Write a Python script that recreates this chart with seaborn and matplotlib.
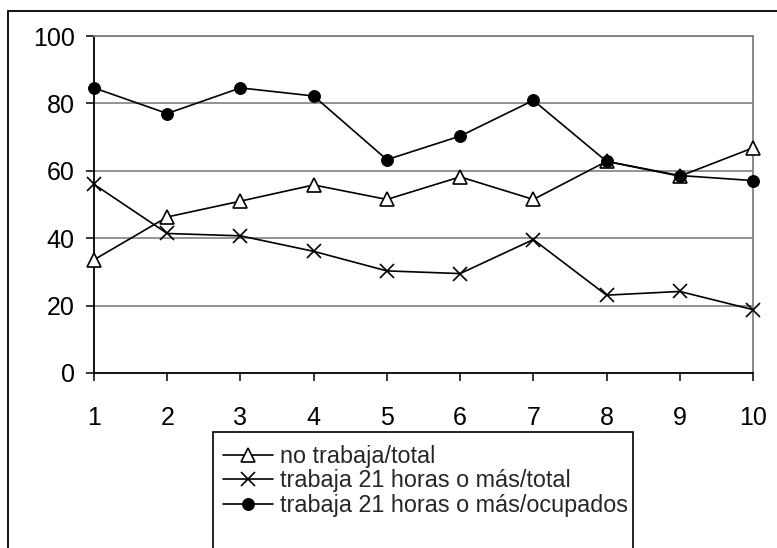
import matplotlib
matplotlib.use("Agg")
import matplotlib.pyplot as plt
import seaborn as sns
import pandas as pd
from matplotlib.patches import Rectangle

x_vals = [1, 2, 3, 4, 5, 6, 7, 8, 9, 10]
no_trabaja_total = [33.6, 46.3, 51.0, 55.8, 51.5, 58.2, 51.5, 62.8, 58.4, 66.8]
trabaja21_total = [56.0, 41.4, 40.7, 36.1, 30.3, 29.5, 39.6, 23.1, 24.2, 18.8]
trabaja21_ocupados = [84.6, 77.0, 84.6, 82.2, 63.3, 70.3, 80.9, 62.8, 58.6, 57.1]
labels = ["no trabaja/total", "trabaja 21 horas o más/total",
          "trabaja 21 horas o más/ocupados"]
y_ticks = [0, 20, 40, 60, 80, 100]

sns.set_theme(style="white")
plt.rcParams['font.family'] = ['Liberation Sans', 'DejaVu Sans']

W, H = 777, 548
fig = plt.figure(figsize=(W / 100, H / 100), dpi=100)
ax = fig.add_axes([94 / W, 1 - 373 / H, (753 - 94) / W, (373 - 36) / H])

# outer border (extends beyond right and bottom)
fig.patches.append(Rectangle((8 / W, -0.1), 1.2, 1 - 11 / H + 0.1,
                             transform=fig.transFigure, fill=False,
                             edgecolor='black', linewidth=1.3, zorder=0))

for yv in y_ticks[1:]:
    ax.axhline(yv, color='#808080', linewidth=1.2, zorder=1)

common = dict(color='black', linewidth=1.2, clip_on=False, zorder=3)
sns.lineplot(x=x_vals, y=no_trabaja_total, ax=ax, marker='^', markersize=10,
             markerfacecolor='white', markeredgecolor='black',
             markeredgewidth=1.2, label=labels[0], **common)
sns.lineplot(x=x_vals, y=trabaja21_total, ax=ax, marker='x', markersize=10,
             markeredgecolor='black', markeredgewidth=1.2,
             label=labels[1], **common)
sns.lineplot(x=x_vals, y=trabaja21_ocupados, ax=ax, marker='o', markersize=8.5,
             markerfacecolor='black', markeredgecolor='black',
             label=labels[2], **common)

ax.set_xlim(1, 10)
ax.set_ylim(0, 100)
ax.set_xticks(x_vals)
ax.set_yticks(y_ticks)
ax.set_xticklabels([str(v) for v in x_vals])
ax.set_yticklabels([str(v) for v in y_ticks])
ax.tick_params(axis='both', which='both', direction='out', length=6,
               width=1.1, color='black', labelsize=18, labelcolor='black',
               bottom=True, left=True)
ax.tick_params(axis='x', pad=18)
ax.tick_params(axis='y', pad=8)
ax.set_xlabel('')
ax.set_ylabel('')
ax.grid(False)
for side in ['left', 'bottom']:
    ax.spines[side].set_color('black')
    ax.spines[side].set_linewidth(1.3)
for side in ['right', 'top']:
    ax.spines[side].set_color('#808080')
    ax.spines[side].set_linewidth(1.3)
ax.set_facecolor('white')

leg = ax.legend(loc='upper left', bbox_to_anchor=(216 / W, 1 - 438 / H),
                bbox_transform=fig.transFigure, frameon=False, fontsize=16.8,
                handlelength=2.15, handletextpad=0.3, labelspacing=0.06,
                borderpad=0.3, borderaxespad=0)
fig.patches.append(Rectangle((213 / W, -0.1), (633 - 213) / W,
                             1 - 432 / H + 0.1, transform=fig.transFigure,
                             fill=False, edgecolor='black', linewidth=1.2,
                             zorder=5))

fig.savefig('out.png', dpi=100, facecolor='white')
